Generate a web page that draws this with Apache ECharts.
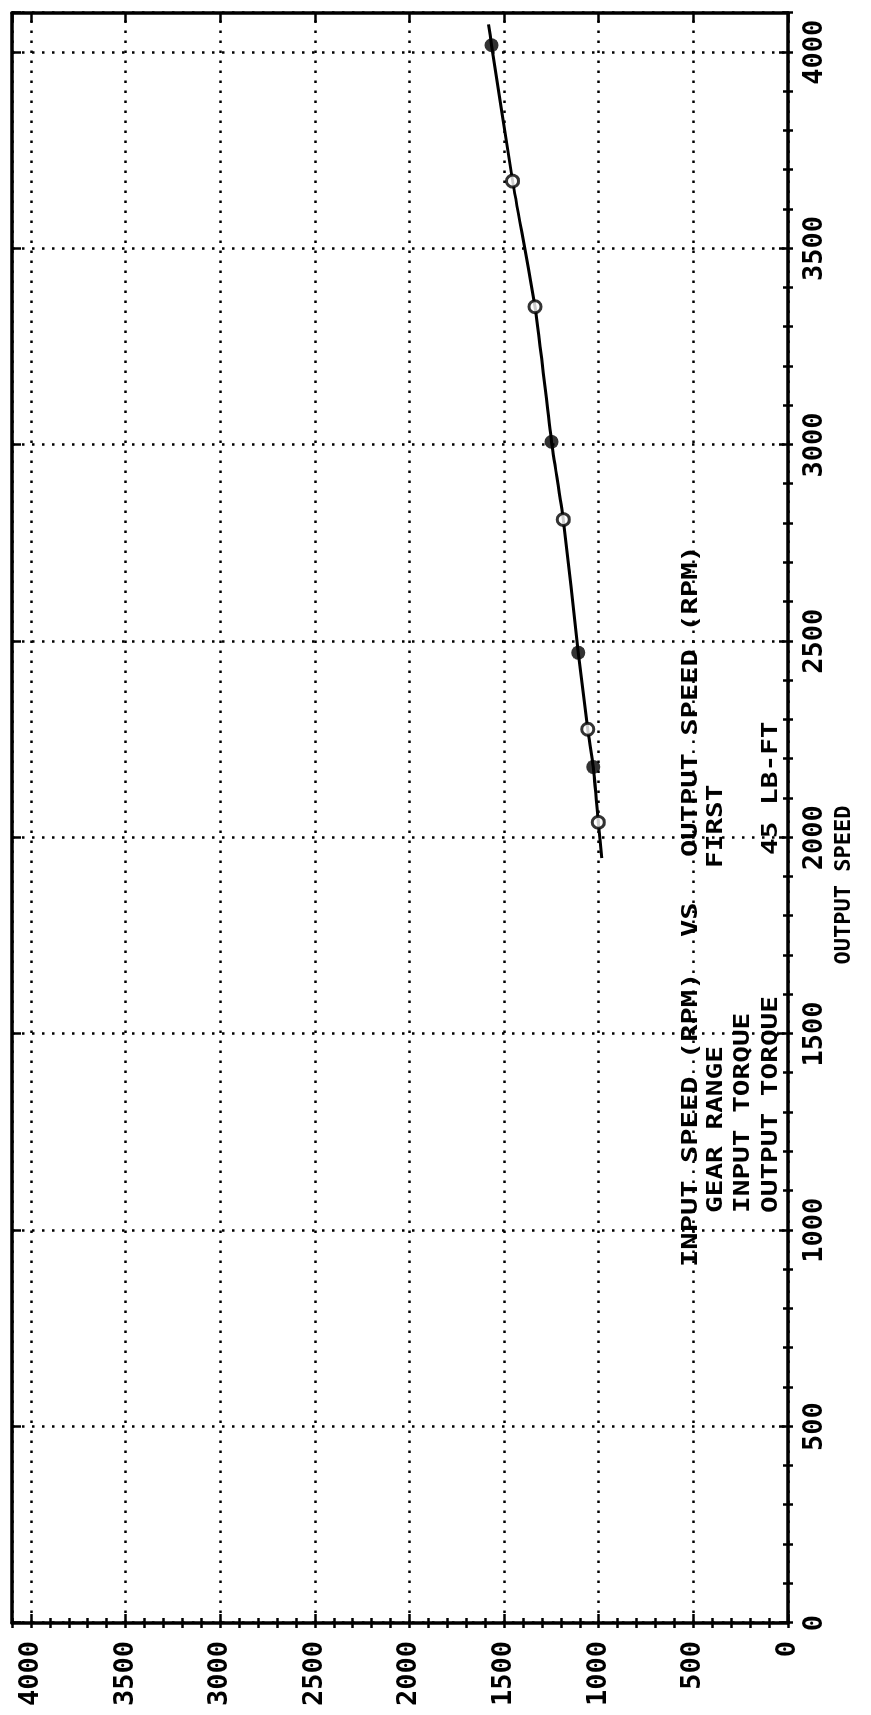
<!DOCTYPE html>
<html>
<head>
<meta charset="utf-8">
<script src="https://cdn.jsdelivr.net/npm/echarts@6/dist/echarts.min.js"></script>
<style>
  html, body { margin:0; padding:0; width:871px; height:1715px; overflow:hidden; background:#fff; }
  #wrap { position:absolute; left:0; top:0; width:1715px; height:871px; transform-origin:0 0; transform: translateY(1715px) rotate(-90deg); }
  #chart { width:1715px; height:871px; }
</style>
</head>
<body>
<div id="wrap"><div id="chart"></div></div>
<script>
// ---- data ----
const outputFilled = [4018, 3008, 2471, 2180];
const inputFilled  = [1566, 1249, 1108, 1029];
const outputOpen   = [3672, 3352, 2810, 2276, 2039];
const inputOpen    = [1455, 1337, 1187, 1058, 1002];
const outputCurve  = [1948, 2039, 2180, 2276, 2471, 2810, 3008, 3352, 3672, 4018, 4071];
const inputCurve   = [984, 1002, 1029, 1058, 1108, 1187, 1249, 1337, 1455, 1566, 1582];
const tickLabels   = ['0','500','1000','1500','2000','2500','3000','3500','4000'];
const titleLine1   = ['INPUT SPEED (RPM)', 'VS', 'OUTPUT SPEED (RPM)'];
const gearRange    = ['GEAR RANGE', 'FIRST'];
const inputTorque  = ['INPUT TORQUE'];
const outputTorque = ['OUTPUT TORQUE', '45 LB-FT'];
const xName = 'OUTPUT SPEED';

const zip = (a, b) => a.map((v, i) => [v, b[i]]);
const FONT = '"DejaVu Sans Mono", "Liberation Mono", monospace';
const AX_MIN = 0, AX_MAX = 4100;
const fmt = v => (v % 500 === 0 && v <= 4000) ? tickLabels[v / 500] : '';

function majorAxis(pos, withLabels, extra) {
  return Object.assign({
    type: 'value', position: pos, min: AX_MIN, max: AX_MAX, interval: 500,
    axisLine: { show: true, onZero: false, lineStyle: { color: '#000', width: 3.5 } },
    axisTick: { show: true, inside: true, length: 9, lineStyle: { color: '#000', width: 2.5 } },
    axisLabel: withLabels ? { show: true, formatter: fmt, color: '#000', fontFamily: FONT, fontWeight: 'bold', fontSize: 27, showMaxLabel: false } : { show: false },
    splitLine: { show: false }
  }, extra || {});
}
function minorAxis(pos) {
  return {
    type: 'value', position: pos, min: AX_MIN, max: AX_MAX, interval: 100,
    axisLine: { show: false },
    axisTick: { show: true, inside: true, length: 5, lineStyle: { color: '#000', width: 2.5 } },
    axisLabel: { show: false }, splitLine: { show: false }
  };
}
const gridDots = { show: true, lineStyle: { color: '#000', width: 2.5, type: [2.5, 7.5] } };

const chart = echarts.init(document.getElementById('chart'), null, { renderer: 'canvas' });

function txt(s, x, y, sx) {
  return { type: 'text', x: x, y: y, scaleX: sx || 1.32, z: 10,
    style: { text: s, fill: '#000', fontFamily: FONT, fontWeight: 'bold', fontSize: 21, align: 'left', verticalAlign: 'middle' } };
}

const option = {
  backgroundColor: '#fff',
  animation: false,
  grid: { left: 92, right: 13, top: 12, bottom: 83, show: false },
  xAxis: [
    majorAxis('bottom', true, {
      splitLine: gridDots,
      axisLabel: { show: true, formatter: fmt, color: '#000', fontFamily: FONT, fontWeight: 'bold', fontSize: 27, margin: 13, showMaxLabel: false },
      name: xName, nameLocation: 'middle', nameGap: 43,
      nameTextStyle: { color: '#000', fontFamily: FONT, fontWeight: 'bold', fontSize: 22, padding: [0, 134, 0, 0] }
    }),
    minorAxis('bottom'),
    majorAxis('top', false),
    minorAxis('top')
  ],
  yAxis: [
    majorAxis('left', true, {
      splitLine: gridDots,
      axisLabel: { show: true, formatter: fmt, color: '#000', fontFamily: FONT, fontWeight: 'bold', fontSize: 27, margin: 18, showMaxLabel: false }
    }),
    minorAxis('left'),
    majorAxis('right', false),
    minorAxis('right')
  ],
  graphic: [
    txt(titleLine1[0], 448, 692, 1.37),
    txt(titleLine1[1], 778, 692, 1.37),
    txt(titleLine1[2], 858, 692, 1.37),
    txt(gearRange[0], 502, 717),
    txt(gearRange[1], 847, 717),
    txt(inputTorque[0], 502, 744),
    txt(outputTorque[0], 502, 772),
    txt(outputTorque[1], 860, 772)
  ],
  series: [
    { type: 'line', xAxisIndex: 0, yAxisIndex: 0, data: zip(outputCurve, inputCurve),
      showSymbol: false, symbol: 'none', smooth: 0.2,
      lineStyle: { color: '#000', width: 3 }, z: 3 },
    { type: 'scatter', xAxisIndex: 0, yAxisIndex: 0, data: zip(outputFilled, inputFilled),
      symbol: 'circle', symbolSize: 14, itemStyle: { color: '#000' }, z: 4 },
    { type: 'scatter', xAxisIndex: 0, yAxisIndex: 0, data: zip(outputOpen, inputOpen),
      symbol: 'circle', symbolSize: 12, itemStyle: { color: '#fff', borderColor: '#000', borderWidth: 3 }, z: 4 }
  ]
};
chart.setOption(option);
</script>
</body>
</html>
